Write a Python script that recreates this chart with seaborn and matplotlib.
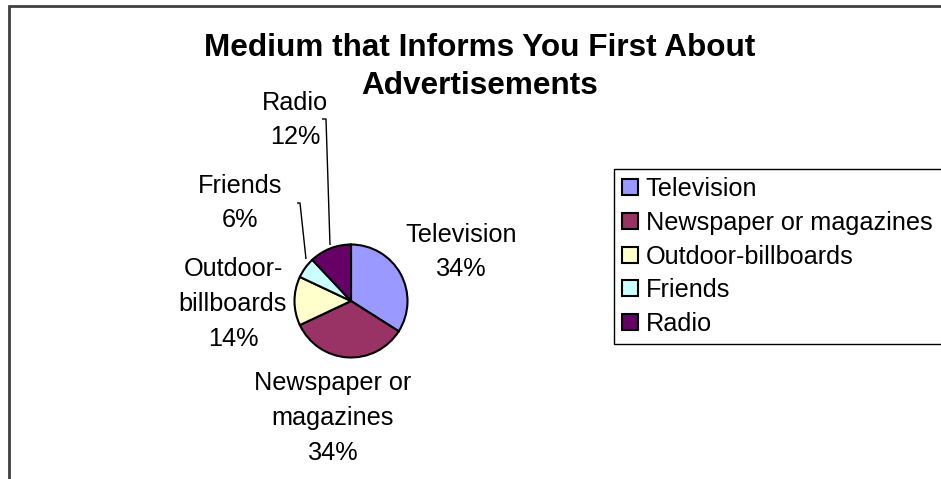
import matplotlib
matplotlib.use("Agg")
import matplotlib.pyplot as plt
from matplotlib.patches import Rectangle
import seaborn as sns

# Survey shares: which medium first informs respondents about advertisements
categories = ["Television", "Newspaper or magazines", "Outdoor-billboards", "Friends", "Radio"]
shares = [34, 34, 14, 6, 12]
label_texts = ["Television", "Newspaper or\nmagazines", "Outdoor-\nbillboards", "Friends", "Radio"]
colors = ["#9999FF", "#993366", "#FFFFCC", "#CCFFFF", "#660066"]
title_lines = ["Medium that Informs You First About", "Advertisements"]

sns.set_theme(style="white")
plt.rcParams["font.family"] = ["Liberation Sans", "DejaVu Sans"]
plt.rcParams["text.color"] = "black"

W, H = 941, 479
fig = plt.figure(figsize=(W / 100, H / 100), dpi=100)
fig.patch.set_facecolor("white")

# one axes spanning the whole canvas, measured in pixels from the top-left
ax = fig.add_axes([0, 0, 1, 1])
ax.set_xlim(0, W)
ax.set_ylim(0, H)
ax.set_axis_off()


def py(y):
    return H - y


# chart-area border (cropped at the right and bottom)
ax.add_patch(Rectangle((9, py(6) - 600), 1200, 600, fill=False,
                       edgecolor="#404040", linewidth=2, zorder=1))

# pie
cx, cy, r = 351, 301, 56.5
wedges, _ = ax.pie(shares, colors=colors, startangle=90, counterclock=False,
                   center=(cx, py(cy)), radius=r, frame=True,
                   wedgeprops=dict(edgecolor="black", linewidth=1.5))
ax.set_xlim(0, W)
ax.set_ylim(0, H)
ax.set_aspect("auto")
ax.set_axis_off()

FS = 18.2

# data labels with category name and percentage
label_pos = [(461, 252), (333, 418), (233, 304), (240, 203), (295, 120)]
for txt, val, (x, y) in zip(label_texts, shares, label_pos):
    ax.text(x, py(y), f"{txt}\n{val}%", ha="center", va="center",
            fontsize=FS, linespacing=1.57, color="black", zorder=5)

# leader lines for the small slices
leaders = [
    [(322, 119), (326, 119), (330, 245)],
    [(297, 203), (300, 203), (306, 259)],
]
for pts in leaders:
    ax.plot([p[0] for p in pts], [py(p[1]) for p in pts], color="black",
            linewidth=1, zorder=4, solid_capstyle="butt")

# title, one line at a time
for line, y in zip(title_lines, (48, 86)):
    ax.text(480, py(y), line, ha="center", va="center", fontsize=22.7,
            fontweight="bold", color="black")

# legend (frame runs past the right edge of the canvas)
leg = ax.legend(wedges, categories, loc="upper left", mode="expand",
                bbox_to_anchor=(614 / W, 1 - 169 / H, 380 / W, 0),
                bbox_transform=fig.transFigure,
                fontsize=FS, frameon=True, fancybox=False, framealpha=1,
                edgecolor="black", borderpad=0.33, handlelength=0.6,
                handleheight=0.6, handletextpad=0.32, labelspacing=0.38,
                borderaxespad=0)
leg.get_frame().set_linewidth(1)
for t in leg.get_texts():
    t.set_color("black")
for h in leg.legend_handles:
    h.set_edgecolor("black")
    h.set_linewidth(1.5)

fig.savefig("out.png", dpi=100, facecolor="white")
